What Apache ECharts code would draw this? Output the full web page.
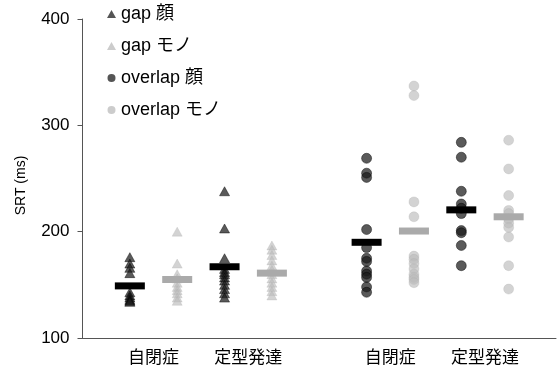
<!DOCTYPE html>
<html>
<head>
<meta charset="utf-8">
<script src="https://cdn.jsdelivr.net/npm/echarts@6/dist/echarts.min.js"></script>
<style>html,body{margin:0;padding:0;background:#fff}#c{width:559px;height:378px}</style>
</head>
<body>
<div id="c"></div>
<script>
// ---- data ----
var groupLabels = ['自閉症', '定型発達', '自閉症', '定型発達'];
var seriesNames = ['gap 顔', 'gap モノ', 'overlap 顔', 'overlap モノ'];
var yTicks = [100, 200, 300, 400];

// individual values: autism (ASD) and typical development (TD)
var gapFaceASD = [176, 170, 166, 161, 143, 140, 138, 136, 135, 134];
var gapFaceTD = [238, 203, 175, 165, 162, 160, 157, 154, 150, 146, 142, 138];
var gapObjASD = [200, 170, 160, 156, 152, 148, 145, 142, 138, 135];
var gapObjTD = [187, 183, 178, 173, 168, 164, 160, 156, 152, 148, 144, 140];
var ovFaceASD = [269, 255, 251, 202, 185, 175, 172, 163, 160, 157, 148, 143];
var ovFaceTD = [284, 270, 238, 226, 222, 217, 201, 199, 187, 168];
var ovObjASD = [337, 328, 228, 214, 177, 174, 170, 165, 160, 157, 155, 152];
var ovObjTD = [286, 259, 234, 220, 217, 212, 208, 204, 195, 168, 146];

// group means (horizontal bars)
var faceMeans = [149, 167, 190, 220.5];
var objMeans = [155, 161, 200.6, 214];

// ---- build ----
var faceSlots = [1, 3, 6, 8];
var objSlots = [2, 4, 7, 9];
var labelPos = [1.5, 3.5, 6.5, 8.5];

function pts(x, arr) { return arr.map(function (v) { return [x, v]; }); }

var FONT = 'Liberation Sans, Arial, Noto Sans CJK JP, sans-serif';
var darkStyle = { color: '#1a1a1a', opacity: 0.72, borderColor: '#000', borderWidth: 0.6 };
var lightStyle = { color: '#bbbbbb', opacity: 0.65, borderColor: '#aaaaaa', borderWidth: 0.4 };
var legendDark = { color: '#555555', opacity: 1, borderWidth: 0 };
var legendLight = { color: '#cccccc', opacity: 1, borderWidth: 0 };

var chart = echarts.init(document.getElementById('c'), null, { renderer: 'canvas' });
chart.setOption({
  animation: false,
  backgroundColor: '#fff',
  grid: { left: 82.5, right: 1.5, top: 19, bottom: 40 },
  legend: {
    orient: 'vertical', left: 107, top: 5, padding: 0,
    itemWidth: 9, itemHeight: 8, itemGap: 14,
    data: [
      { name: seriesNames[0], itemStyle: legendDark },
      { name: seriesNames[1], itemStyle: legendLight },
      { name: seriesNames[2], itemStyle: legendDark },
      { name: seriesNames[3], itemStyle: legendLight }
    ],
    textStyle: { fontFamily: FONT, fontSize: 18, color: '#000', lineHeight: 18 }
  },
  xAxis: {
    type: 'value', min: 0, max: 10, interval: 0.5,
    axisLine: { lineStyle: { color: '#555', width: 1 } },
    axisTick: { show: false },
    splitLine: { show: false },
    axisLabel: {
      margin: 12, fontFamily: FONT, fontSize: 17, color: '#000',
      formatter: function (v) {
        for (var i = 0; i < labelPos.length; i++) if (Math.abs(v - labelPos[i]) < 1e-6) return groupLabels[i];
        return '';
      }
    }
  },
  yAxis: {
    type: 'value', min: yTicks[0], max: yTicks[yTicks.length - 1], interval: 100,
    name: 'SRT (ms)', nameLocation: 'middle', nameGap: 54, nameRotate: 90,
    nameTextStyle: { fontFamily: FONT, fontSize: 14, color: '#000', padding: [0, 14, 0, 0] },
    axisLine: { show: true, lineStyle: { color: '#555', width: 1 } },
    axisTick: { show: true, length: 5, lineStyle: { color: '#555' } },
    splitLine: { show: false },
    axisLabel: { margin: 13, fontFamily: FONT, fontSize: 17, color: '#000' }
  },
  series: [
    { name: seriesNames[0], type: 'scatter', symbol: 'triangle', symbolSize: [10, 9], z: 2,
      itemStyle: darkStyle,
      data: pts(faceSlots[0], gapFaceASD).concat(pts(faceSlots[1], gapFaceTD)) },
    { name: seriesNames[1], type: 'scatter', symbol: 'triangle', symbolSize: [10, 9], z: 2,
      itemStyle: lightStyle,
      data: pts(objSlots[0], gapObjASD).concat(pts(objSlots[1], gapObjTD)) },
    { name: seriesNames[2], type: 'scatter', symbol: 'circle', symbolSize: 10, z: 2,
      itemStyle: darkStyle,
      data: pts(faceSlots[2], ovFaceASD).concat(pts(faceSlots[3], ovFaceTD)) },
    { name: seriesNames[3], type: 'scatter', symbol: 'circle', symbolSize: 10, z: 2,
      itemStyle: lightStyle,
      data: pts(objSlots[2], ovObjASD).concat(pts(objSlots[3], ovObjTD)) },
    { name: 'faceMean', type: 'scatter', symbol: 'rect', symbolSize: [30, 7], z: 5,
      itemStyle: { color: '#000', opacity: 1 },
      data: faceSlots.map(function (x, i) { return [x, faceMeans[i]]; }) },
    { name: 'objMean', type: 'scatter', symbol: 'rect', symbolSize: [30, 7], z: 5,
      itemStyle: { color: '#aaaaaa', opacity: 1 },
      data: objSlots.map(function (x, i) { return [x, objMeans[i]]; }) }
  ]
});
</script>
</body>
</html>
